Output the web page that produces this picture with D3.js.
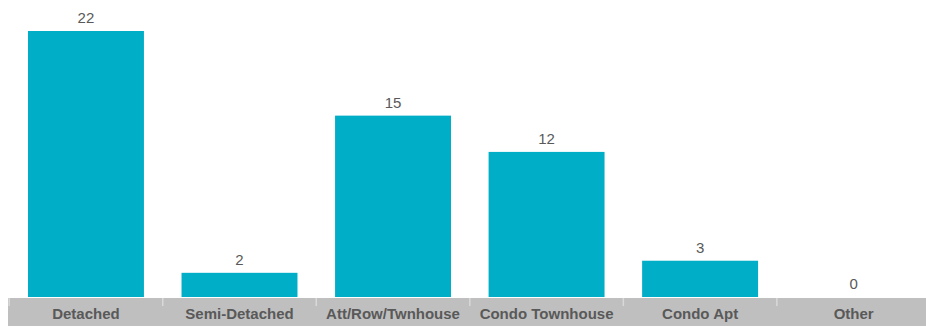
<!DOCTYPE html>
<html>
<head>
<meta charset="utf-8">
<script src="https://cdn.jsdelivr.net/npm/d3@7"></script>
<style>
  body { margin: 0; background: #fff; }
  svg { display: block; font-family: "Liberation Sans", Arial, sans-serif; }
</style>
</head>
<body>
<svg width="926" height="327"></svg>
<script>
var categories = ["Detached", "Semi-Detached", "Att/Row/Twnhouse", "Condo Townhouse", "Condo Apt", "Other"];
var values = [22, 2, 15, 12, 3, 0];

var svg = d3.select("svg"),
	width = +svg.attr("width"),
	height = +svg.attr("height");

var baseY = 297;
var step = 153.6;

var x = d3.scaleBand()
	.domain(categories)
	.range([9, 9 + step * categories.length])
	.paddingInner(0.2448)
	.paddingOuter(0.1237);

var y = d3.scaleLinear()
	.domain([0, 22])
	.range([baseY, 31]);

// gray axis band
svg.append("rect")
	.attr("x", 8)
	.attr("y", baseY + 1)
	.attr("width", width - 8)
	.attr("height", 28)
	.style("fill", "#bfbfbf");

// tick separators
svg.append("g")
	.selectAll("line")
	.data(categories)
	.enter().append("line")
	.attr("x1", function (d) { return x(d) - x.step() * x.paddingInner() / 2; })
	.attr("x2", function (d) { return x(d) - x.step() * x.paddingInner() / 2; })
	.attr("y1", baseY + 1)
	.attr("y2", baseY + 9)
	.style("stroke", "#d9d9d9")
	.style("stroke-width", 1.5);

svg.append("g")
	.selectAll("rect")
	.data(values)
	.enter().append("rect")
	.attr("x", function (d, i) { return x(categories[i]); })
	.attr("y", function (d) { return y(d); })
	.attr("width", x.bandwidth())
	.attr("height", function (d) { return baseY - y(d); })
	.style("fill", "#00aec7");

svg.append("g")
	.selectAll("text")
	.data(values)
	.enter().append("text")
	.attr("x", function (d, i) { return x(categories[i]) + x.bandwidth() / 2; })
	.attr("y", function (d) { return y(d) - 8; })
	.attr("text-anchor", "middle")
	.style("font-size", "15px")
	.style("fill", "#595959")
	.text(function (d) { return d; });

svg.append("g")
	.selectAll("text")
	.data(categories)
	.enter().append("text")
	.attr("x", function (d) { return x(d) + x.bandwidth() / 2; })
	.attr("y", 319)
	.attr("text-anchor", "middle")
	.style("font-size", "15px")
	.style("font-weight", "bold")
	.style("fill", "#595959")
	.text(function (d) { return d; });
</script>
</body>
</html>
